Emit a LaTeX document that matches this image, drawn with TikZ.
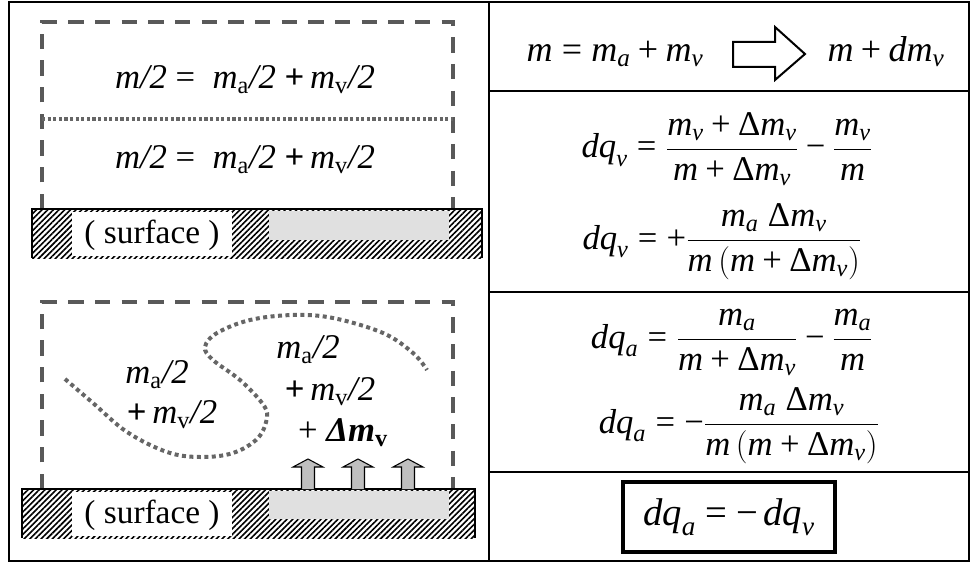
\documentclass[tikz,border=0pt]{standalone}
\usepackage{amsmath}
\usepackage{fontspec}
\setmainfont{Liberation Serif}
\usepackage{graphicx}
\usetikzlibrary{patterns.meta}
\newcommand{\vm}{\textit{m}}
\newcommand{\vd}{\textit{d}}
\newcommand{\vq}{\textit{q}}
\newcommand{\Pl}{\mathbin{\textrm{+}}}
\newcommand{\Eq}{\mathrel{\textrm{=}}}
\newcommand{\Mi}{\mathbin{\textrm{\char"2212}}}
\newcommand{\Dl}{\textrm{\char"0394}}
\newcommand{\sa}{_{\textit{a}}}
\newcommand{\sv}{_{\textit{v}}}
\newcommand{\half}[1]{$\textit{m}_{\textrm{#1}}$\textit{/2}}
\begin{document}
\begin{tikzpicture}[x=0.75pt,y=-0.75pt,
  frame/.style={line width=1.5pt},
  dashbox/.style={draw=black!65, line width=3.3pt, dash pattern=on 11.5pt off 8.5pt},
  dotline/.style={draw=black!60, line width=2.6pt, dash pattern=on 2.4pt off 1.8pt},
  dotcurve/.style={draw=black!60, line width=3pt, dash pattern=on 3pt off 2.6pt},
  hatchbar/.style={pattern={Lines[angle=45,distance=3pt,line width=1.2pt]}, pattern color=black},
  barline/.style={line width=2.2pt},
  whitebox/.style={fill=white},
  wetzone/.style={fill=black!12},
  lbl/.style={font=\fontsize{26}{30}\selectfont, inner sep=0pt},
  surf/.style={font=\fontsize{25}{30}\selectfont, inner sep=0pt},
  eqn/.style={font=\fontsize{26}{31}\selectfont, inner sep=0pt, anchor=base},
  upblock/.style={fill=black!25, draw=black, line width=0.8pt},
  hollow/.style={draw=black, line width=1.5pt, fill=white},
  resbox/.style={draw=black, line width=2.4pt, minimum width=212*0.75pt, minimum height=70*0.75pt, inner sep=0pt, font=\fontsize{29}{34}\selectfont},
]
\useasboundingbox (0,0) rectangle (971,563);
% table
\draw[frame] (9,2) rectangle (969,561);
\draw[frame] (489,2) -- (489,561);
\draw[frame] (489,91) -- (969,91);
\draw[frame] (489,292) -- (969,292);
\draw[frame] (489,472) -- (969,472);

% ---------- top left panel ----------
\draw[dashbox] (42,209) -- (42,22) -- (453,22) -- (453,209);
\draw[dotline] (42,119) -- (453,119);
\fill[hatchbar] (32,209) rectangle (482,258);
\fill[whitebox] (72,212) rectangle (232,256);
\fill[wetzone] (269,211) rectangle (449,240);
\draw[barline] (32,258) -- (32,209) -- (482,209) -- (482,258);
\node[surf] (s1) at (152,235) {( surface )};
\node[lbl] (t1) at (245,80) {\textit{m/2} = \ \half{a} \textbf{+}\,\half{v}};
\node[lbl] (t2) at (245,160) {\textit{m/2} = \ \half{a} \textbf{+}\,\half{v}};

% ---------- bottom left panel ----------
\draw[dashbox] (42,489) -- (42,302) -- (453,302) -- (453,489);
\fill[hatchbar] (22,489) rectangle (475,538);
\fill[whitebox] (72,492) rectangle (232,536);
\fill[wetzone] (269,491) rectangle (449,519);
\draw[barline] (22,538) -- (22,489) -- (475,489) -- (475,538);
\node[surf] (s2) at (152,515) {( surface )};
\draw[dotcurve] plot[smooth, tension=0.6] coordinates {(65,379) (93,403) (127,432) (167,452) (200,457) (233,453) (258,438) (267,417) (262,403) (240,380) (213,360) (205,347) (217,333) (250,320) (293,315) (333,318) (383,333) (413,353) (427,370)};
\foreach \x in {308,358,408}{
  \draw[upblock] (\x-6.5,489) -- (\x-6.5,467) -- (\x-15,467) -- (\x,459) -- (\x+15,467) -- (\x+6.5,467) -- (\x+6.5,489);
}
\node[lbl] (l1) at (157,375) {\half{a}};
\node[lbl] (l2) at (172,415) {\textbf{+}\,\half{v}};
\node[lbl] (r1) at (308,350) {\half{a}};
\node[lbl] (r2) at (330,392) {\textbf{+}\,\half{v}};
\node[lbl] (r3) at (343,433) {+ \textbf{\textit{\char"0394m}}$_{\textbf{v}}$};

% ---------- right column ----------
\node[eqn, font=\fontsize{27}{32}\selectfont] (e1) at (615,62) {$\vm \Eq \vm\sa \Pl \vm\sv$};
\draw[hollow] (733,42) -- (775,42) -- (775,27) -- (805,54) -- (775,80) -- (775,67) -- (733,67) -- cycle;
\node[eqn, font=\fontsize{27}{32}\selectfont] (e2) at (886,62) {$\vm \Pl \vd\vm\sv$};
\node[eqn] (e3) at (727,158) {$\displaystyle \vd\vq\sv \Eq \frac{\vm\sv \Pl \Dl\vm\sv}{\vm \Pl \Dl\vm\sv} \Mi \frac{\vm\sv}{\vm}$};
\node[eqn] (e4) at (722,249) {$\displaystyle \vd\vq\sv \Eq \Pl \frac{\vm\sa\;\Dl\vm\sv}{\vm\,(\vm \Pl \Dl\vm\sv)}$};
\node[eqn] (e5) at (732,348) {$\displaystyle \vd\vq\sa \Eq \frac{\vm\sa}{\vm \Pl \Dl\vm\sv} \Mi \frac{\vm\sa}{\vm}$};
\node[eqn] (e6) at (739,433) {$\displaystyle \vd\vq\sa \Eq \Mi \frac{\vm\sa\;\Dl\vm\sv}{\vm\,(\vm \Pl \Dl\vm\sv)}$};
\node[resbox] (e7) at (729,517) {$\vd\vq\sa \Eq \Mi\,\vd\vq\sv$};
\end{tikzpicture}
\end{document}
